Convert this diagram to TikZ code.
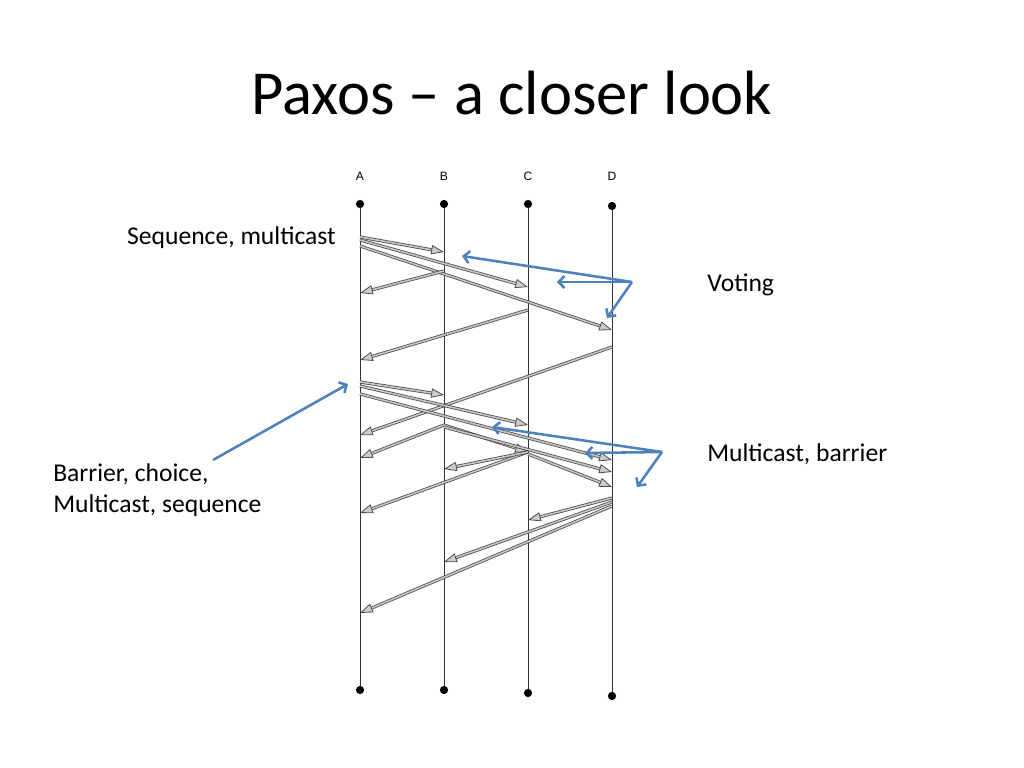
\documentclass[tikz,border=0pt]{standalone}
\usepackage{fontspec}
\setmainfont{Carlito}
\newfontfamily\labfont{Liberation Sans}
\usetikzlibrary{arrows.meta}
\definecolor{noteblue}{RGB}{79,129,189}

\begin{document}
\begin{tikzpicture}[x=0.703125pt, y=-0.703125pt,
  dot/.style={circle, fill=black, inner sep=0pt, minimum size=5.8pt},
  lifeline/.style={black!80, line width=0.7pt},
  msg/.style={draw=black!70, double=black!22, double distance=1.1pt, line width=0.55pt,
    -{Triangle[open, fill=black!20, length=9pt, width=6.5pt]}},
  note/.style={draw=noteblue, line width=1.8pt, -{Straight Barb[length=4pt, width=8.5pt]}},
  txt/.style={font=\fontsize{18}{21.6}\selectfont, inner sep=0pt}]
\useasboundingbox[fill=white] (0,0) rectangle (1024,768);

\node[font=\fontsize{44}{52}\selectfont, inner sep=0pt, anchor=base] (title) at (512,115) {Paxos – a closer look};

% lifelines
\foreach \n/\x/\yt/\yb in {A/360/204/690, B/444/204/690, C/528/204/693, D/612/206/696} {
  \node[font=\labfont\fontsize{8.5}{10}\selectfont] (lab\n) at (\x,176) {\n};
  \node[dot] (top\n) at (\x,\yt) {};
  \node[dot] (bot\n) at (\x,\yb) {};
  \draw[lifeline] (top\n) -- (bot\n);
}

% first round
\draw[msg] (topA |- 0,237) -- (topB |- 0,252);
\draw[msg] (topA |- 0,240) -- (topC |- 0,287);
\draw[msg] (topA |- 0,246) -- (topD |- 0,330);
\draw[msg] (topB |- 0,271) -- (topA |- 0,293);
\draw[msg] (topC |- 0,310) -- (topA |- 0,360);
\draw[msg] (topD |- 0,347) -- (topA |- 0,435);

% second round
\draw[msg] (topA |- 0,382) -- (topB |- 0,395);
\draw[msg] (topA |- 0,386) -- (topC |- 0,425);
\draw[msg] (topA |- 0,394) -- (topD |- 0,460);
\draw[msg] (topB |- 0,425) -- (topA |- 0,458);
\draw[msg] (topB |- 0,425) -- (topC |- 0,452);
\draw[msg] (topB |- 0,427) -- (topD |- 0,472);
\draw[msg] (topC |- 0,452) -- (topA |- 0,513);
\draw[msg] (topC |- 0,452) -- (topB |- 0,469);
\draw[msg] (topC |- 0,454) -- (topD |- 0,487);
\draw[msg] (topD |- 0,498) -- (topC |- 0,520);
\draw[msg] (topD |- 0,502) -- (topB |- 0,562);
\draw[msg] (topD |- 0,506) -- (topA |- 0,613);

% notes
\node[txt, anchor=base east] (seqlab) at (336,245) {Sequence, multicast};
\node[txt, anchor=base west] (votelab) at (707,291) {Voting};
\node[txt, anchor=base west] (mcastlab) at (707,461) {Multicast, barrier};
\node[txt, anchor=west, align=left] (barlab) at (53,490) {Barrier, choice,\\Multicast, sequence};

\coordinate (voteSrc) at (632,282);
\coordinate (voteB) at (462,256);
\coordinate (voteC) at (557,282);
\coordinate (voteD) at (607,318);
\draw[note] (voteSrc) -- (voteB);
\draw[note] (voteSrc) -- (voteC);
\draw[note] (voteSrc) -- (voteD);

\coordinate (mcSrc) at (662,452);
\coordinate (mcB) at (492,427);
\coordinate (mcC) at (585,453);
\coordinate (mcD) at (637,487);
\draw[note] (mcSrc) -- (mcB);
\draw[note] (mcSrc) -- (mcC);
\draw[note] (mcSrc) -- (mcD);

\coordinate (barSrc) at (213,460);
\coordinate (barTip) at (348,384);
\draw[note] (barSrc) -- (barTip);
\end{tikzpicture}
\end{document}
